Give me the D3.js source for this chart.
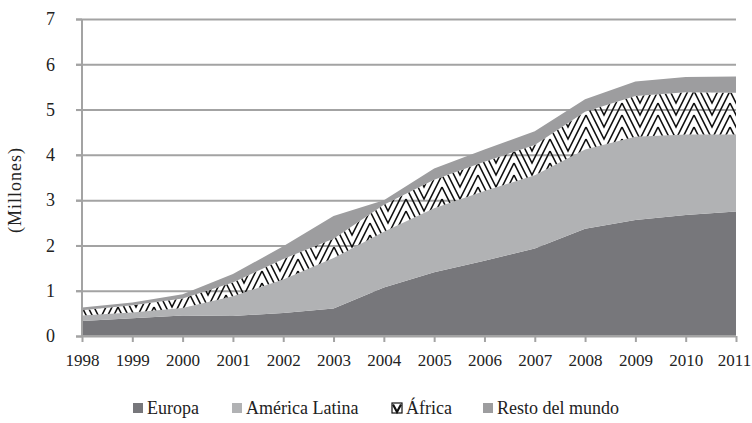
<!DOCTYPE html>
<html>
<head>
<meta charset="utf-8">
<script src="https://cdn.jsdelivr.net/npm/d3@7"></script>
<style>
  body { margin: 0; background: #fff; }
  svg text { font-family: "Liberation Serif", "Times New Roman", serif; fill: #222; }
</style>
</head>
<body>
<svg width="752" height="423"></svg>
<script>
// data (millones)
var years = [1998, 1999, 2000, 2001, 2002, 2003, 2004, 2005, 2006, 2007, 2008, 2009, 2010, 2011];
var europa = [0.33, 0.39, 0.45, 0.44, 0.51, 0.61, 1.07, 1.41, 1.66, 1.93, 2.37, 2.56, 2.67, 2.75];
var americaLatina = [0.12, 0.13, 0.17, 0.44, 0.74, 1.11, 1.23, 1.41, 1.54, 1.62, 1.75, 1.84, 1.78, 1.70];
var africa = [0.12, 0.16, 0.21, 0.30, 0.45, 0.43, 0.60, 0.63, 0.65, 0.67, 0.83, 0.90, 0.93, 0.92];
var resto = [0.06, 0.06, 0.09, 0.19, 0.28, 0.50, 0.10, 0.25, 0.27, 0.30, 0.28, 0.32, 0.34, 0.36];
var seriesNames = ['Europa', 'América Latina', 'África', 'Resto del mundo'];
var yTicks = [0, 1, 2, 3, 4, 5, 6, 7];

var margin = {top: 19, right: 16, bottom: 87, left: 82};
var width = 752 - margin.left - margin.right;
var height = 423 - margin.top - margin.bottom;

var svg = d3.select('svg');

// chevron hatch for Africa
var defs = svg.append('defs');
var pat = defs.append('pattern')
  .attr('id', 'chev')
  .attr('patternUnits', 'userSpaceOnUse')
  .attr('width', 36).attr('height', 36);
[-36, -24, -12, 0, 12, 24, 36].forEach(function(s) {
  pat.append('polyline')
    .attr('points', [[0, s], [18, s + 36], [36, s]].join(' '))
    .attr('fill', 'none')
    .attr('stroke', '#111')
    .attr('stroke-width', 1.6);
});

var table = years.map(function(y, i) {
  return {year: y, 'Europa': europa[i], 'América Latina': americaLatina[i],
          'África': africa[i], 'Resto del mundo': resto[i]};
});

var stack = d3.stack().keys(seriesNames);
var layers = stack(table);

var x = d3.scaleLinear()
  .domain([1998, 2011])
  .range([0, width]);

var y = d3.scaleLinear()
  .domain([0, 7])
  .range([height, 0]);

var fills = {
  'Europa': '#77777b',
  'América Latina': '#b1b2b4',
  'África': 'url(#chev)',
  'Resto del mundo': '#9d9d9f'
};

var g = svg.append('g')
  .attr('transform', 'translate(' + margin.left + ',' + margin.top + ')');

// grid lines (behind the areas)
g.append('g')
  .call(d3.axisLeft(y).tickValues(yTicks).tickSize(-width).tickFormat(''))
  .call(function(s) {
    s.select('.domain').remove();
    s.selectAll('line').attr('stroke', '#a3a3a3').attr('stroke-width', 2).attr('x1', -6);
  });

var area = d3.area()
  .x(function(d) { return x(d.data.year); })
  .y0(function(d) { return y(d[0]); })
  .y1(function(d) { return y(d[1]); });

g.selectAll('path.layer')
  .data(layers)
  .enter()
  .append('path')
    .attr('class', 'layer')
    .attr('d', area)
    .attr('fill', function(d) { return fills[d.key]; });

// y axis
var yAxis = g.append('g')
  .call(d3.axisLeft(y).tickValues(yTicks).tickFormat(d3.format('d')).tickSize(6).tickPadding(21));
yAxis.attr('font-family', null);
yAxis.select('.domain').attr('stroke', '#a3a3a3').attr('stroke-width', 2).attr('d', 'M0,' + height + 'V0');
yAxis.selectAll('line').attr('stroke', '#a3a3a3').attr('stroke-width', 2);
yAxis.selectAll('text').style('font-size', '18px').attr('fill', '#222');

// x axis
var xAxis = g.append('g')
  .attr('transform', 'translate(0,' + height + ')')
  .call(d3.axisBottom(x).tickValues(years).tickFormat(d3.format('d')).tickSize(6).tickPadding(12));
xAxis.attr('font-family', null);
xAxis.select('.domain').attr('stroke', '#a3a3a3').attr('stroke-width', 2).attr('d', 'M0,0H' + width);
xAxis.selectAll('line').attr('stroke', '#a3a3a3').attr('stroke-width', 2);
xAxis.selectAll('text').style('font-size', '17px').attr('fill', '#222')
  .attr('dx', function(d) { return d === 2011 ? -2 : 0; });

// y label
svg.append('text')
  .attr('transform', 'translate(21,' + 190 + ') rotate(-90)')
  .attr('text-anchor', 'middle')
  .style('font-size', '18px')
  .style('letter-spacing', '1px')
  .text('(Millones)');

// legend
var legendX = [133, 232, 392, 483];
var legend = svg.append('g').attr('transform', 'translate(0,403)');
seriesNames.forEach(function(name, i) {
  var item = legend.append('g').attr('transform', 'translate(' + legendX[i] + ',0)');
  if (name === 'África') {
    item.append('rect').attr('width', 10).attr('height', 10).attr('fill', '#fff').attr('stroke', '#111').attr('stroke-width', 1.2);
    item.append('polyline').attr('points', '1,1.5 5,9 9,1.5').attr('fill', 'none').attr('stroke', '#111').attr('stroke-width', 2.2);
  } else {
    item.append('rect').attr('width', 10).attr('height', 10).attr('fill', fills[name]);
  }
  item.append('text')
    .attr('x', 14)
    .attr('y', 11)
    .style('font-size', '18px')
    .text(name);
});
</script>
</body>
</html>
